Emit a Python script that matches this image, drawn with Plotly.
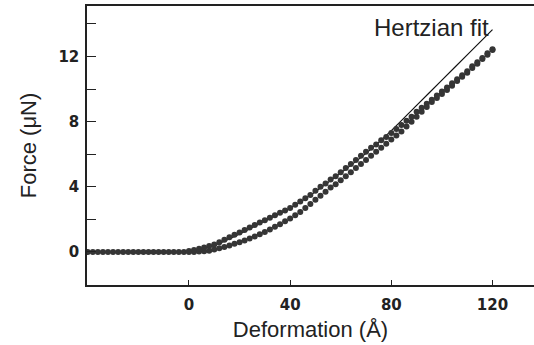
import plotly.graph_objects as go

# Deformation (Å) sampled every 2 Å
flat_x = [-40, -38, -36, -34, -32, -30, -28, -26, -24, -22, -20, -18, -16, -14, -12,
          -10, -8, -6, -4, -2]
flat_y = [0.0, 0.0, 0.0, 0.0, 0.0, 0.0, 0.0, 0.0, 0.0, 0.0, 0.0, 0.0, 0.0,
          0.0, 0.0, 0.0, 0.0, 0.0, 0.0, 0.0]

upper_x = [0, 2, 4, 6, 8, 10, 12, 14, 16, 18, 20, 22, 24, 26, 28, 30, 32, 34, 36, 38, 40,
           42, 44, 46, 48, 50, 52, 54, 56, 58, 60, 62, 64, 66, 68, 70, 72, 74, 76, 78, 80,
           82, 84, 86, 88, 90, 92, 94, 96, 98, 100, 102, 104, 106, 108, 110, 112, 114,
           116, 118, 120]
upper_y = [0.05, 0.12, 0.2, 0.28, 0.36, 0.45, 0.6, 0.75, 0.9, 1.05, 1.2, 1.35, 1.5, 1.65,
           1.8, 1.95, 2.1, 2.25, 2.4, 2.55, 2.7, 2.9, 3.1, 3.3, 3.5, 3.75, 4.0, 4.2, 4.45,
           4.65, 4.9, 5.15, 5.4, 5.65, 5.9, 6.15, 6.4, 6.6, 6.85, 7.05, 7.3, 7.55, 7.8,
           8.05, 8.3, 8.6, 8.85, 9.1, 9.35, 9.6, 9.85, 10.1, 10.35, 10.6, 10.85, 11.1,
           11.4, 11.65, 11.9, 12.2, 12.45]

lower_x = [0, 2, 4, 6, 8, 10, 12, 14, 16, 18, 20, 22, 24, 26, 28, 30, 32, 34, 36, 38, 40,
           42, 44, 46, 48, 50, 52, 54, 56, 58, 60, 62, 64, 66, 68, 70, 72, 74, 76, 78, 80,
           82, 84, 86, 88, 90, 92, 94, 96, 98, 100, 102, 104, 106, 108, 110, 112, 114,
           116, 118, 120]
lower_y = [0.0, 0.0, 0.02, 0.04, 0.08, 0.15, 0.22, 0.3, 0.4, 0.5, 0.6, 0.7, 0.82, 0.95,
           1.08, 1.22, 1.38, 1.54, 1.7, 1.88, 2.05, 2.25, 2.45, 2.7, 2.95, 3.2, 3.45, 3.7,
           3.95, 4.15, 4.4, 4.65, 4.9, 5.15, 5.4, 5.65, 5.9, 6.15, 6.4, 6.65, 6.9, 7.15,
           7.4, 7.7, 8.0, 8.3, 8.6, 8.9, 9.2, 9.45, 9.7, 9.95, 10.2, 10.5, 10.75, 11.0,
           11.3, 11.55, 11.85, 12.1, 12.4]

fit_x = [0, 10, 20, 30, 40, 50, 60, 70, 80, 90, 100, 110, 120]
fit_y = [0.0, 0.4, 1.1, 1.9, 2.7, 3.7, 4.85, 6.05, 7.45, 9.0, 10.55, 12.1, 13.65]

x_ticks = [0, 40, 80, 120]
y_ticks = [0, 4, 8, 12]

dot_color = "#353535"
fig = go.Figure()
fig.add_trace(go.Scatter(x=fit_x, y=fit_y, mode="lines",
                         line=dict(color="#111111", width=1.2, shape="spline"),
                         hoverinfo="skip"))
for xs, ys in [(flat_x + lower_x, flat_y + lower_y), (upper_x, upper_y)]:
    fig.add_trace(go.Scatter(x=xs, y=ys, mode="markers",
                             marker=dict(color=dot_color, size=6,
                                         line=dict(width=0))))

fig.add_annotation(x=119.5, y=13.75, xref="x", yref="y", text="Hertzian fit",
                   showarrow=False, xanchor="right", yanchor="middle",
                   font=dict(family="Liberation Sans, Arial", size=24, color="#222222"))

axis_common = dict(showgrid=False, zeroline=False, showline=True, linecolor="#222222",
                   linewidth=1.5, ticks="inside", tickcolor="#222222",
                   tickfont=dict(family="DejaVu Sans", size=15, color="#222222",
                                 weight="bold"),
                   title_font=dict(family="Liberation Sans, Arial", size=22,
                                   color="#222222"))

fig.update_layout(
    width=534, height=345,
    margin=dict(l=87, r=0, t=6, b=60),
    paper_bgcolor="white", plot_bgcolor="white",
    showlegend=False,
    xaxis=dict(axis_common, range=[-40.3, 136.4], tickvals=x_ticks,
               ticklen=5, tickwidth=1.2, mirror=True, ticklabelstandoff=5,
               title=dict(text="Deformation (Å)", standoff=9)),
    yaxis=dict(axis_common, range=[-2.03, 15.1], tickvals=y_ticks,
               ticklen=9, tickwidth=1.2, ticklabelstandoff=3,
               minor=dict(tickvals=[2, 6, 10, 14], ticks="inside", ticklen=9,
                          tickwidth=1.2, tickcolor="#222222"),
               title=dict(text="Force (μN)", standoff=16)),
)

fig.write_html("out.html")
